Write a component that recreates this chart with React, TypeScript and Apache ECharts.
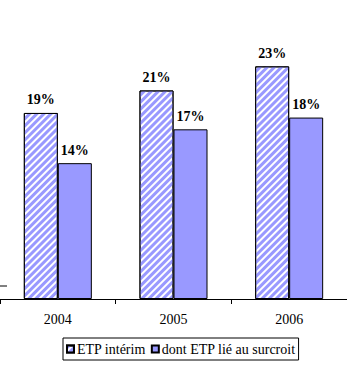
import React, { useEffect, useRef } from "react";
import * as echarts from "echarts";

const categories = ["2004", "2005", "2006"];
const interimValues = [18.53, 20.77, 23.17];
const surcroitValues = [13.53, 16.9, 18.07];
const seriesNames = ["ETP intérim", "dont ETP lié au surcroit"];

const FONT = "'Liberation Serif', 'Times New Roman', serif";

export default function App() {
  const ref = useRef<HTMLDivElement>(null);
  useEffect(() => {
    if (!ref.current) return;
    const chart = echarts.init(ref.current, undefined, { renderer: "svg" });
    const label = {
      show: true,
      position: "top" as const,
      distance: 6,
      fontFamily: FONT,
      fontWeight: "bold" as const,
      fontSize: 14,
      color: "#000",
      formatter: (p: any) => Math.round(p.value) + "%",
    };
    chart.setOption({
      animation: false,
      backgroundColor: "#fff",
      textStyle: { fontFamily: FONT },
      grid: { left: -1, right: -6, top: 48, bottom: 79 },
      xAxis: {
        type: "category",
        data: categories,
        axisLine: { lineStyle: { color: "#000", width: 1 } },
        axisTick: { show: true, length: 5, lineStyle: { color: "#000" } },
        axisLabel: { fontFamily: FONT, fontSize: 14, color: "#000", margin: 13 },
      },
      yAxis: {
        type: "value",
        min: 0,
        max: 25,
        show: false,
        splitLine: { show: false },
      },
      legend: {
        left: 63,
        top: 338,
        itemWidth: 7,
        itemHeight: 7,
        itemGap: 5,
        borderColor: "#000",
        borderWidth: 1,
        padding: [4, 3, 4, 3],
        icon: "rect",
        textStyle: { fontFamily: FONT, fontSize: 14, color: "#000", padding: [0, 0, 0, -2] },
        data: seriesNames,
      },
      series: [
        {
          name: seriesNames[0],
          type: "bar",
          data: interimValues,
          barWidth: 34,
          barGap: "0%",
          itemStyle: {
            color: "#ffffff",
            borderColor: "#000",
            borderWidth: 1,
            decal: {
              symbol: "rect",
              color: "#9999ff",
              dashArrayX: [1, 0],
              dashArrayY: [3, 2],
              rotation: -Math.PI / 4,
              symbolSize: 1,
            },
          },
          label,
        },
        {
          name: seriesNames[1],
          type: "bar",
          data: surcroitValues,
          barWidth: 34,
          itemStyle: { color: "#9999ff", borderColor: "#000", borderWidth: 1 },
          label,
        },
      ],
      graphic: [
        {
          type: "line",
          shape: { x1: 0, y1: 286, x2: 7, y2: 286 },
          style: { stroke: "#000", lineWidth: 1 },
        },
      ],
    });
    return () => chart.dispose();
  }, []);
  return <div ref={ref} style={{ width: 347, height: 378, position: "absolute", left: 0, top: 0 }} />;
}
